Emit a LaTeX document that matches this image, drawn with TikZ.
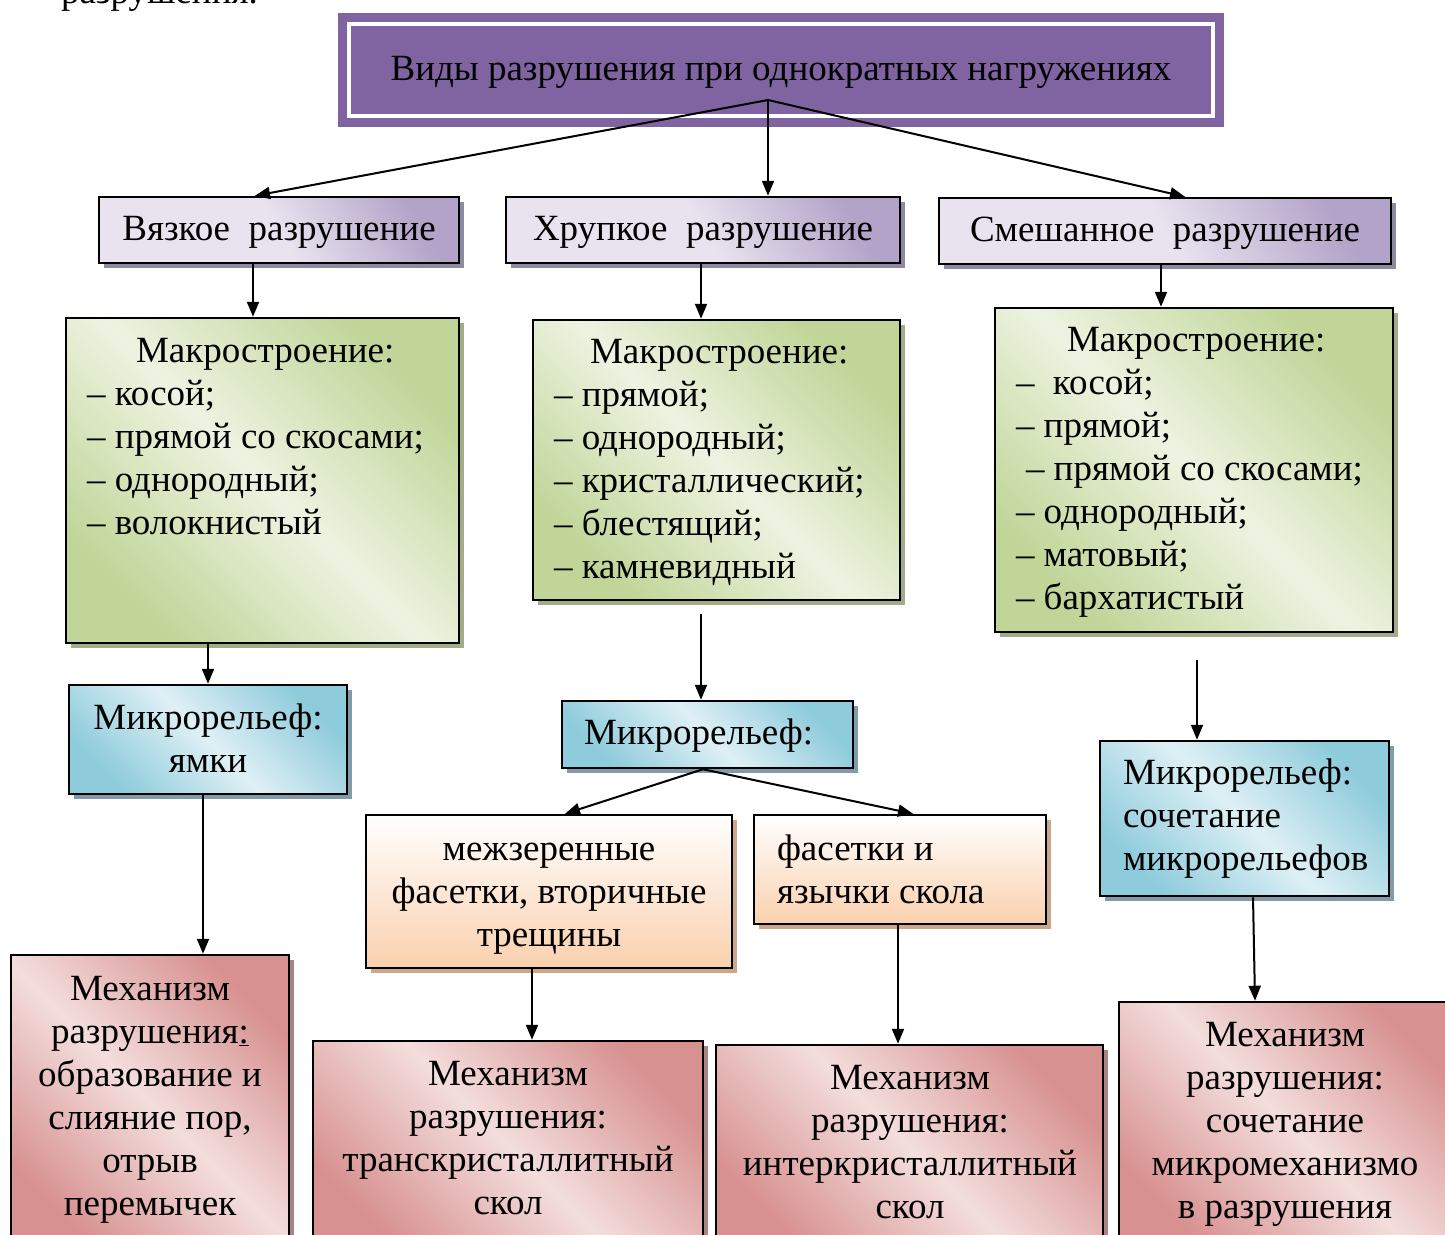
\documentclass[tikz,border=0pt]{standalone}
\usepackage{fontspec}
\setmainfont{Liberation Serif}
\usetikzlibrary{arrows.meta,shadows}

\newcommand\diagfont{\fontsize{37}{43}\selectfont}
\newcommand\topstrut{\rule{0pt}{30pt}}

\definecolor{titlepurple}{HTML}{8064A2}
\definecolor{plight}{HTML}{E8E3EF}
\definecolor{pdark}{HTML}{B3A3C8}
\definecolor{pshadow}{HTML}{8E899E}
\definecolor{glight}{HTML}{EDF3E1}
\definecolor{gdark}{HTML}{C0D597}
\definecolor{gshadow}{HTML}{A2AC88}
\definecolor{blight}{HTML}{DEF0F5}
\definecolor{bdark}{HTML}{8ECBDB}
\definecolor{bshadow}{HTML}{809CA8}
\definecolor{rlight}{HTML}{F3DEDD}
\definecolor{rdark}{HTML}{D79190}
\definecolor{rshadow}{HTML}{A88484}
\definecolor{odark}{HTML}{FAD0AE}
\definecolor{oshadow}{HTML}{C9A88B}

\tikzset{every picture/.style={line width=2pt}}
\tikzset{
  box/.style={draw=black, line width=2.5pt, rectangle, inner sep=0pt, font=\diagfont,
    text height=27pt, text depth=7pt},
  diag/.style 2 args={box, top color=#1, bottom color=#1, middle color=#2, shading angle=-45},
  shad/.style={drop shadow={shadow xshift=5pt, shadow yshift=-5pt, fill=#1, opacity=1}},
  pbox/.style={box, top color=pdark, bottom color=plight, middle color=plight, shading angle=-60, shad=pshadow},
  gbox/.style={diag={gdark}{glight}, shad=gshadow},
  bbox/.style={diag={bdark}{blight}, shad=bshadow},
  rbox/.style={diag={rdark}{rlight}, shad=rshadow},
  obox/.style={box, top color=white, bottom color=odark, shad=oshadow},
  titlebox/.style={draw=titlepurple, fill=titlepurple, double=white, double distance=4pt,
    line width=9pt, inner sep=0pt, font=\diagfont, text height=27pt, text depth=7pt},
  txt/.style={inner sep=0pt, font=\diagfont},
  arr/.style={-{Triangle[length=15pt,width=12pt]}, line width=2pt},
}

\begin{document}
\begin{tikzpicture}[x=1pt,y=1pt,yscale=-1,xscale=1]
\useasboundingbox (0,0) rectangle (1445,1234);

% Text Node
\node[txt, anchor=base west] (prev) at (60,4) {разрушения.};

%Title
\node[titlebox, minimum width=864, minimum height=92] (title) at (781,70) {Виды разрушения при однократных нагружениях};

%Kinds of fracture
\node[pbox, minimum width=360, minimum height=66] (vyaz) at (279,230) {Вязкое~ разрушение};
\node[pbox, minimum width=394, minimum height=66] (khrup) at (703,230) {Хрупкое~ разрушение};
\node[pbox, minimum width=452, minimum height=66] (smesh) at (1165,231) {Смешанное~ разрушение};

%Macrostructure
\node[gbox, minimum width=393, minimum height=325] (mac1) at (262.5,480.5) {};
\node[gbox, minimum width=367, minimum height=280] (mac2) at (716.5,460) {};
\node[gbox, minimum width=398, minimum height=324] (mac3) at (1194,470) {};

%Microrelief
\node[bbox, minimum width=278, minimum height=109] (mic1) at (208,739.5) {};
\node[bbox, minimum width=291, minimum height=67] (mic2) at (707.5,734.5) {};
\node[bbox, minimum width=289, minimum height=155] (mic3) at (1244.5,818.5) {};

%Facets
\node[obox, minimum width=366, minimum height=153] (or1) at (549,891.5) {};
\node[obox, minimum width=292, minimum height=109] (or2) at (900,869.5) {};

%Mechanism
\node[rbox, minimum width=278, minimum height=295] (red1) at (150,1102.5) {};
\node[rbox, minimum width=390, minimum height=209] (red2) at (508,1145.5) {};
\node[rbox, minimum width=387, minimum height=205] (red3) at (909.5,1147.5) {};
\node[rbox, minimum width=341, minimum height=248] (red4) at (1289.5,1126) {};

% Text Node
\node[txt, anchor=north west, align=left] (mac1-t) at (86,331) {\topstrut\hspace*{49pt}Макростроение:\\– косой;\\– прямой со скосами;\\– однородный;\\– волокнистый};
% Text Node
\node[txt, anchor=north west, align=left] (mac2-t) at (553,332) {\topstrut\hspace*{36pt}Макростроение:\\– прямой;\\– однородный;\\– кристаллический;\\– блестящий;\\– камневидный};
% Text Node
\node[txt, anchor=north west, align=left] (mac3-t) at (1015,320) {\topstrut\hspace*{51pt}Макростроение:\\–~ косой;\\– прямой;\\\hspace*{10pt}– прямой со скосами;\\– однородный;\\– матовый;\\– бархатистый};
% Text Node
\node[txt, anchor=north, align=center] (mic1-t) at (208,698) {\topstrut Микрорельеф:\\ямки};
% Text Node
\node[txt, anchor=base west] (mic2-t) at (583,744) {Микрорельеф:};
% Text Node
\node[txt, anchor=north west, align=left] (mic3-t) at (1122,753) {\topstrut Микрорельеф:\\сочетание\\микрорельефов};
% Text Node
\node[txt, anchor=north, align=center] (or1-t) at (549,829) {\topstrut межзеренные\\фасетки, вторичные\\трещины};
% Text Node
\node[txt, anchor=north west, align=left] (or2-t) at (776,829) {\topstrut фасетки и\\язычки скола};
% Text Node
\node[txt, anchor=north, align=center] (red1-t) at (150,969) {\topstrut Механизм\\разрушения\underline{:}\\образование и\\слияние пор,\\отрыв\\перемычек};
% Text Node
\node[txt, anchor=north, align=center] (red2-t) at (508,1054) {\topstrut Механизм\\разрушения:\\транскристаллитный\\скол};
% Text Node
\node[txt, anchor=north, align=center] (red3-t) at (910,1058) {\topstrut Механизм\\разрушения:\\интеркристаллитный\\скол};
% Text Node
\node[txt, anchor=north, align=center] (red4-t) at (1285,1015) {\topstrut Механизм\\разрушения:\\сочетание\\микромеханизмо\\в разрушения};

%Arrows
\coordinate (hub) at (768,100);
\coordinate (m2) at (701,614);
\coordinate (m3) at (1197,660);
\draw[arr] (hub) -- ([xshift=-24pt]vyaz.north);
\draw[arr] (hub) -- ([xshift=65pt]khrup.north);
\draw[arr] (hub) -- ([xshift=20pt]smesh.north);
\draw[arr] ([xshift=-26pt]vyaz.south) -- ([xshift=-9.5pt]mac1.north);
\draw[arr] ([xshift=-2pt]khrup.south) -- ([xshift=-15.5pt]mac2.north);
\draw[arr] ([xshift=-4pt]smesh.south) -- ([xshift=-33pt]mac3.north);
\draw[arr] (mac1.south -| mic1.north) -- (mic1.north);
\draw[arr] (m2) -- (m2 |- mic2.north);
\draw[arr] (m3) -- (m3 |- mic3.north);
\draw[arr] ([xshift=-5pt]mic1.south) -- ([xshift=53pt]red1.north);
\draw[arr] ([xshift=-4.5pt]mic2.south) -- ([xshift=16pt]or1.north);
\draw[arr] ([xshift=-4.5pt]mic2.south) -- ([xshift=13pt]or2.north);
\draw[arr] ([xshift=-17pt]or1.south) -- ([xshift=24pt]red2.north);
\draw[arr] ([xshift=-2pt]or2.south) -- ([xshift=-11.5pt]red3.north);
\draw[arr] ([xshift=8.5pt]mic3.south) -- ([xshift=-34.5pt]red4.north);

\end{tikzpicture}
\end{document}
